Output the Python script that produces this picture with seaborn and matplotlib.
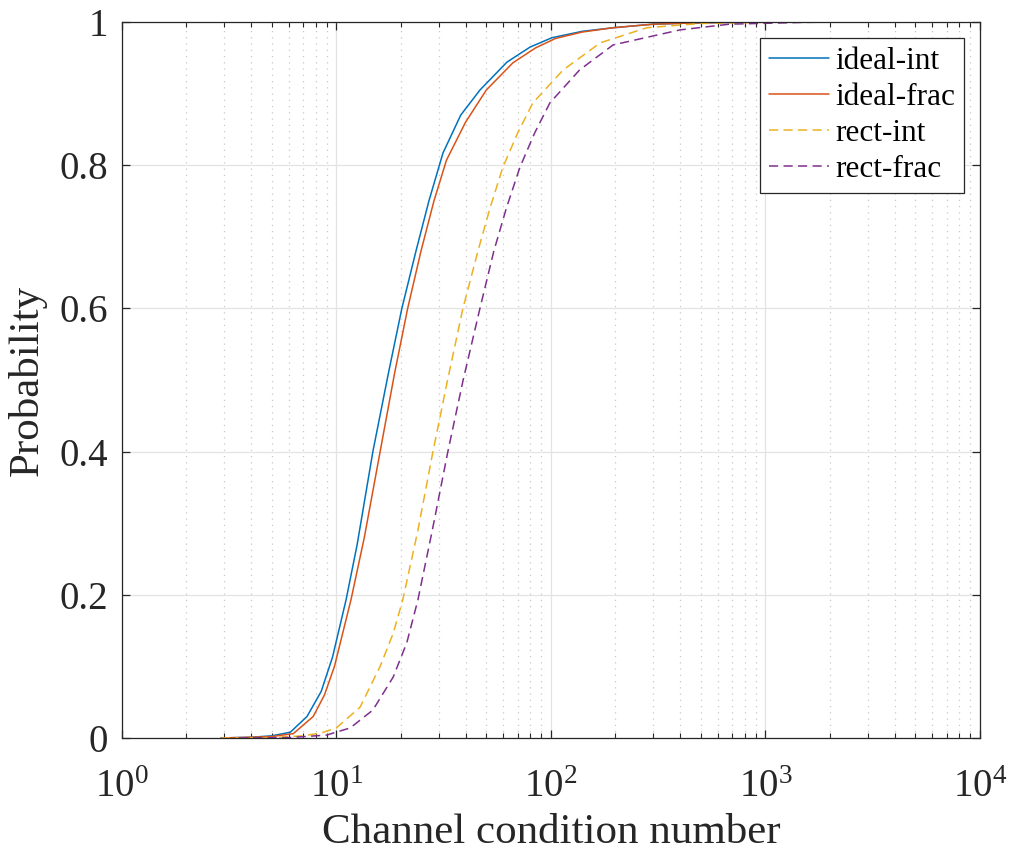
import numpy as np
import pandas as pd
import matplotlib
matplotlib.use('Agg')
import matplotlib.pyplot as plt
import matplotlib.ticker as mticker
import seaborn as sns

ideal_int_x = [2.9, 4, 5, 6.1, 7.3, 8.5, 9.6, 11.1, 12.5, 14.8, 17.5, 20.2, 23.5, 27, 31.4,
               38, 46.7, 62.4, 80, 101, 140, 195, 300, 500, 1000, 9000]
ideal_int_p = [0, 0.001, 0.003, 0.008, 0.03, 0.065, 0.113, 0.193, 0.27, 0.40, 0.51, 0.60, 0.68,
               0.75, 0.817, 0.87, 0.905, 0.944, 0.965, 0.978, 0.987, 0.992, 0.997, 0.999, 1.0, 1.0]

ideal_frac_x = [2.9, 4, 5, 6.3, 7.8, 8.8, 9.8, 11.7, 13.5, 16, 18.7, 21.5, 24.8, 28.5, 32.6,
                40, 50, 66.5, 85, 105, 140, 195, 300, 500, 1000, 9000]
ideal_frac_p = [0, 0.001, 0.002, 0.006, 0.03, 0.06, 0.1, 0.193, 0.28, 0.40, 0.51, 0.60, 0.68,
                0.75, 0.807, 0.86, 0.905, 0.943, 0.964, 0.977, 0.986, 0.992, 0.997, 0.999, 1.0, 1.0]

rect_int_x = [2.9, 5, 7, 8.5, 10, 12.9, 16, 18.4, 20.4, 24, 28.2, 33, 38.9, 45.7, 52, 59.7,
              70, 82.4, 114, 170, 280, 500, 1200, 9000]
rect_int_p = [0, 0.0005, 0.003, 0.007, 0.014, 0.043, 0.1, 0.146, 0.193, 0.29, 0.40, 0.50, 0.60,
              0.68, 0.74, 0.797, 0.845, 0.887, 0.933, 0.971, 0.992, 0.998, 1.0, 1.0]

rect_frac_x = [3.5, 6, 9, 11.6, 14.8, 18.4, 21.3, 24, 28, 33.1, 39, 46.7, 54.2, 62, 71.7, 84,
               98.9, 136, 195, 400, 680, 1500, 2500, 9000]
rect_frac_p = [0, 0.0005, 0.004, 0.014, 0.039, 0.085, 0.133, 0.193, 0.29, 0.40, 0.50, 0.60,
               0.68, 0.74, 0.797, 0.845, 0.887, 0.933, 0.968, 0.989, 0.997, 0.9995, 1.0, 1.0]

labels = ['ideal-int', 'ideal-frac', 'rect-int', 'rect-frac']
colors = ['#0072BD', '#D95319', '#EDB120', '#7E2F8E']
y_ticks = [0, 0.2, 0.4, 0.6, 0.8, 1]
y_ticklabels = ['0', '0.2', '0.4', '0.6', '0.8', '1']

sns.set_theme(style='ticks')
plt.rcParams['font.family'] = ['Liberation Serif', 'DejaVu Serif']
plt.rcParams['mathtext.fontset'] = 'custom'
plt.rcParams['mathtext.rm'] = 'Liberation Serif'
plt.rcParams['mathtext.it'] = 'Liberation Serif:italic'

fig = plt.figure(figsize=(10.15, 8.6), dpi=100)
ax = fig.add_axes([0.120, 0.1419, 0.8455, 0.8325])

series = [(ideal_int_x, ideal_int_p), (ideal_frac_x, ideal_frac_p),
          (rect_int_x, rect_int_p), (rect_frac_x, rect_frac_p)]
styles = ['-', '-', '--', '--']
for (xs, ps), lab, col, ls in zip(series, labels, colors, styles):
    df = pd.DataFrame({'x': xs, 'p': ps})
    sns.lineplot(data=df, x='x', y='p', ax=ax, color=col, label=lab, linewidth=1.1,
                 linestyle=ls, estimator=None, sort=False)
    if ls == '--':
        ax.lines[-1].set_dashes((6, 3.5))

ax.set_xscale('log')
ax.set_xlim(1, 1e4)
ax.set_ylim(0, 1)
ax.set_yticks(y_ticks)
ax.set_yticklabels(y_ticklabels)
ax.xaxis.set_major_locator(mticker.LogLocator(base=10, numticks=10))
ax.xaxis.set_minor_locator(mticker.LogLocator(base=10, subs=np.arange(2, 10), numticks=100))

ax.grid(True, which='major', color='#e3e3e3', linestyle='-', linewidth=0.9)
ax.xaxis.grid(True, which='minor', color='#c8c8c8', linestyle=(0, (1, 4)), linewidth=0.9)
ax.set_axisbelow(True)

ax.tick_params(which='both', direction='in', top=True, right=True, colors='#262626',
               labelcolor='#262626')
ax.tick_params(which='major', length=6, width=0.9, labelsize=28)
ax.tick_params(axis='x', which='major', pad=22)
ax.tick_params(axis='y', which='major', pad=10)
ax.tick_params(which='minor', length=3.5, width=0.8)
for s in ax.spines.values():
    s.set_color('#262626')
    s.set_linewidth(0.9)

ax.set_xlabel('Channel condition number', fontsize=31, labelpad=6, color='#262626')
ax.set_ylabel('Probability', fontsize=31, labelpad=9, color='#262626')

leg = ax.legend(loc='upper right', fontsize=22.5, frameon=True, fancybox=False,
                edgecolor='#262626', framealpha=1, handlelength=1.9, handletextpad=0.2,
                borderpad=0.3, labelspacing=0.22, borderaxespad=0.5)
leg.get_frame().set_linewidth(0.9)
for t in leg.get_texts():
    t.set_color('black')

fig.savefig('out.png', dpi=100)
